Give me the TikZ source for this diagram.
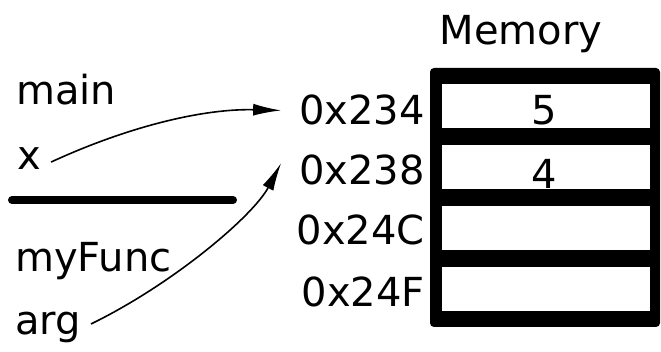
\documentclass[tikz,border=0pt]{standalone}
\usepackage{fontspec}
\setmainfont{DejaVu Sans}
\usetikzlibrary{arrows.meta}
\begin{document}
\begin{tikzpicture}[x=1pt,y=-1pt,
  lbl/.style={inner sep=0pt, font=\fontsize{40}{48}\selectfont},
  cell/.style={fill=white, draw=none, minimum width=208pt, minimum height=44pt, inner sep=0pt},
  ptr/.style={-{Latex[length=28pt,width=12pt]}, line width=1.6pt}]
\useasboundingbox (0,0) rectangle (661,352);
% memory block
\node[fill=black, rounded corners=4pt, minimum width=230pt, minimum height=259pt, inner sep=0pt] (mem) at (545,197.5) {};
\node[cell] (c1) at (546,106.5) {};
\node[cell] (c2) at (546,167) {};
\node[cell] (c3) at (546,228.5) {};
\node[cell] (c4) at (546,289.5) {};
\node[lbl, anchor=base] (v1) at (544,125) {5};
\node[lbl, anchor=base] (v2) at (544,189) {4};
\node[lbl, anchor=base] (memt) at (521,45) {Memory};
% addresses
\node[lbl, anchor=base east] (a1) at (425,125) {0x234};
\node[lbl, anchor=base east] (a2) at (425,185) {0x238};
\node[lbl, anchor=base east] (a3) at (425,245) {0x24C};
\node[lbl, anchor=base east] (a4) at (425,307) {0x24F};
% stack labels
\node[lbl, anchor=base west] (mainl) at (16,105) {main};
\node[lbl, anchor=base west] (xv) at (17,170) {x};
\node[lbl, anchor=base west] (funcl) at (15,272) {myFunc};
\node[lbl, anchor=base west] (argv) at (15,335) {arg};
\draw[line width=8pt, line cap=round] (12,200) -- (233,200);
% pointers
\draw[ptr] ([xshift=10pt,yshift=-3pt]xv.east) .. controls +(78,-36) and +(-77,-2) .. ([xshift=-18pt]a1.west);
\draw[ptr] ([xshift=10pt,yshift=4pt]argv.east) .. controls +(82,-40) and +(-28,53) .. ([xshift=-18pt,yshift=-8pt]a2.north west);
\end{tikzpicture}
\end{document}
